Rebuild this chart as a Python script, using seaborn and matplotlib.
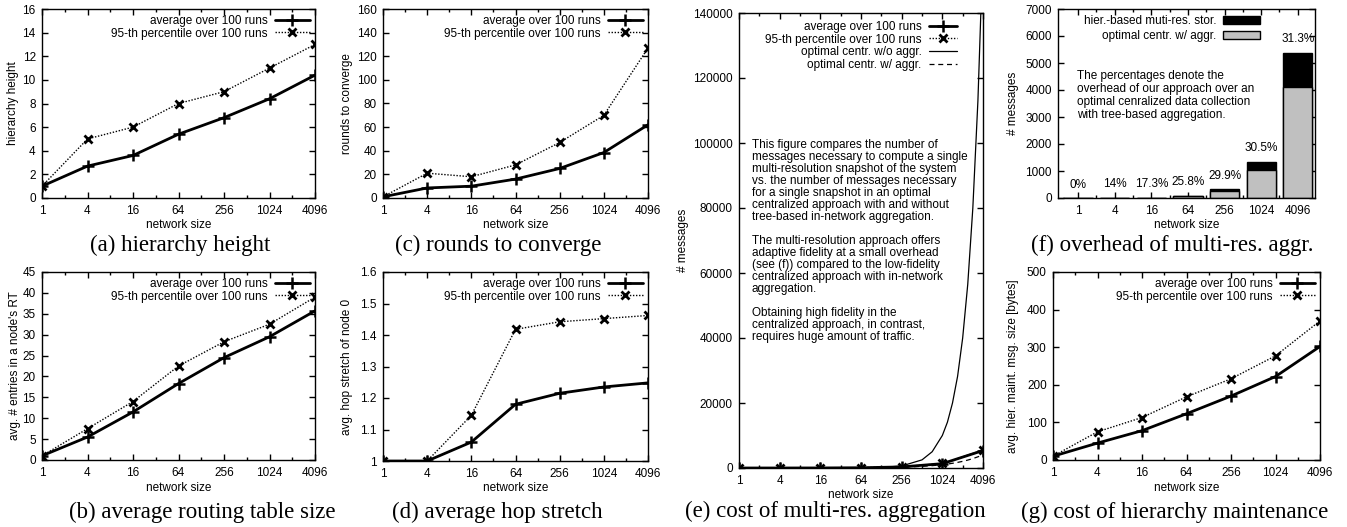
import numpy as np
import pandas as pd
import seaborn as sns
import matplotlib
matplotlib.use('Agg')
import matplotlib.pyplot as plt
from matplotlib.ticker import NullFormatter
from matplotlib.patches import Patch

NET_SIZE = [1, 4, 16, 64, 256, 1024, 4096]
SIZE_LABELS = ['1', '4', '16', '64', '256', '1024', '4096']
MINOR_SIZES = [2, 8, 32, 128, 512, 2048]

# (a) hierarchy height
HEIGHT_AVG = [1, 2.7, 3.6, 5.4, 6.8, 8.4, 10.4]
HEIGHT_P95 = [1, 5, 6, 8, 9, 11, 13]
# (b) routing table size
RT_AVG = [1, 5.5, 11.5, 18.3, 24.5, 29.5, 35.7]
RT_P95 = [1, 7.5, 14, 22.5, 28.3, 32.5, 39]
# (c) rounds to converge
ROUNDS_AVG = [1, 8.5, 10, 16, 25, 38.5, 62]
ROUNDS_P95 = [1, 21, 18, 28, 47, 70, 127]
# (d) hop stretch
STRETCH_AVG = [1, 1, 1.06, 1.18, 1.215, 1.235, 1.248]
STRETCH_P95 = [1, 1, 1.145, 1.418, 1.442, 1.452, 1.462]
# (e) messages per snapshot
MSG_AVG = [0, 3.4, 17.6, 79, 331, 1335, 5377]
MSG_P95 = [0, 4, 20, 85, 350, 1400, 5500]
CURVE_N = [1, 64, 128, 256, 512, 724, 1024, 1218, 1448, 1722, 2048, 2435, 2896, 3444, 4096]
CENTR_NO_AGGR = [0, 39, 156, 624, 2500, 5000, 10000, 14100, 20000, 28200, 40000,
                 56500, 80000, 113000, 160000]
CENTR_AGGR = [0, 63, 127, 255, 511, 723, 1023, 1217, 1447, 1721, 2047, 2434, 2895, 3443, 4095]
# (f) overhead bars
OPT_AGGR = [0, 3, 15, 63, 255, 1023, 4095]
HIER_TOTAL = [0, 3.4, 17.6, 79, 331, 1335, 5377]
OVERHEAD = ['0%', '14%', '17.3%', '25.8%', '29.9%', '30.5%', '31.3%']
# (g) maintenance message size
MAINT_AVG = [10, 45, 78, 123, 170, 222, 302]
MAINT_P95 = [10, 75, 113, 168, 216, 277, 370]

LBL_AVG = 'average over 100 runs'
LBL_P95 = '95-th percentile over 100 runs'

sns.set_theme(style='ticks')
FS = 8.5
plt.rcParams.update({
    'font.family': ['Liberation Sans', 'DejaVu Sans'],
    'font.size': FS,
    'axes.labelsize': FS,
    'xtick.labelsize': FS,
    'ytick.labelsize': FS,
    'legend.fontsize': FS,
    'axes.linewidth': 1.0,
    'axes.edgecolor': 'black',
    'axes.labelcolor': 'black',
    'text.color': 'black',
    'xtick.color': 'black',
    'ytick.color': 'black',
    'xtick.direction': 'in',
    'ytick.direction': 'in',
    'xtick.top': True,
    'ytick.right': True,
    'xtick.major.size': 4,
    'xtick.minor.size': 2.2,
    'ytick.major.size': 4,
    'xtick.major.width': 1,
    'xtick.minor.width': 1,
    'ytick.major.width': 1,
    'xtick.major.pad': 5,
    'ytick.major.pad': 4.5,
})

W, H = 1347, 527
fig = plt.figure(figsize=(W / 100, H / 100), dpi=100)

BOXES = {
    'a': (42, 9, 315, 198),
    'c': (383, 9, 648, 198),
    'b': (42, 272, 315, 460),
    'd': (383, 272, 648, 461),
    'e': (739, 13, 983, 468),
    'f': (1058, 9, 1315, 198),
    'g': (1053, 272, 1320, 460),
}


def make_axes(key):
    l, t, r, b = BOXES[key]
    return fig.add_axes([l / W, 1 - b / H, (r - l) / W, (b - t) / H])


def frac(key, px, py):
    l, t, r, b = BOXES[key]
    return (px - l) / (r - l), (b - py) / (b - t)


def set_labels(ax, key, ylabel, ylab_x, xlab_y):
    ax.set_xlabel('network size', va='center')
    ax.set_ylabel(ylabel, va='center')
    ax.xaxis.set_label_coords(0.5, frac(key, 0, xlab_y)[1])
    ax.yaxis.set_label_coords(frac(key, ylab_x, 0)[0], 0.5)


def log_xaxis(ax):
    ax.set_xscale('log', base=2)
    ax.set_xlim(1, 4096)
    ax.set_xticks(NET_SIZE, SIZE_LABELS)
    ax.set_xticks(MINOR_SIZES, minor=True)
    ax.xaxis.set_minor_formatter(NullFormatter())
    ax.tick_params(axis='y', which='minor', length=0)


def runs_legend(ax, key, right_gap=5, top_gap=6, handlelength=3.0):
    l, t, r, b = BOXES[key]
    ax.legend(loc='upper right', bbox_to_anchor=frac(key, r - right_gap, t + top_gap),
              frameon=False, markerfirst=False, numpoints=1, borderpad=0,
              borderaxespad=0, handlelength=handlelength, handletextpad=0.6,
              labelspacing=0.05)


def draw_runs(ax, avg, p95):
    sns.lineplot(x=NET_SIZE, y=avg, ax=ax, color='black', lw=2, marker='+',
                 ms=8.5, mew=1.8, mec='black', label=LBL_AVG)
    sns.lineplot(x=NET_SIZE, y=p95, ax=ax, color='black', lw=1, ls=(0, (1, 1.2)),
                 marker='x', ms=6, mew=2, mec='black', label=LBL_P95)


def runs_panel(key, avg, p95, ylim, yticks, ytl, ylabel, ylab_x, xlab_y):
    ax = make_axes(key)
    draw_runs(ax, avg, p95)
    log_xaxis(ax)
    ax.set_ylim(*ylim)
    ax.set_yticks(yticks, ytl)
    set_labels(ax, key, ylabel, ylab_x, xlab_y)
    runs_legend(ax, key)
    return ax


runs_panel('a', HEIGHT_AVG, HEIGHT_P95, (0, 16), range(0, 17, 2),
           [str(v) for v in range(0, 17, 2)], 'hierarchy height', 13, 225)
runs_panel('c', ROUNDS_AVG, ROUNDS_P95, (0, 160), range(0, 161, 20),
           [str(v) for v in range(0, 161, 20)], 'rounds to converge', 347, 225)
runs_panel('b', RT_AVG, RT_P95, (0, 45), range(0, 46, 5),
           [str(v) for v in range(0, 46, 5)], "avg. # entries in a node's RT", 15, 488)
d_ticks = [1.0, 1.1, 1.2, 1.3, 1.4, 1.5, 1.6]
runs_panel('d', STRETCH_AVG, STRETCH_P95, (1, 1.6), d_ticks,
           ['1', '1.1', '1.2', '1.3', '1.4', '1.5', '1.6'], 'avg. hop stretch of node 0', 347, 488)
runs_panel('g', MAINT_AVG, MAINT_P95, (0, 500), range(0, 501, 100),
           [str(v) for v in range(0, 501, 100)], 'avg. hier. maint. msg. size [bytes]', 1013, 488)

# (e) cost of multi-res aggregation
ax = make_axes('e')
draw_runs(ax, MSG_AVG, MSG_P95)
sns.lineplot(x=CURVE_N, y=CENTR_NO_AGGR, ax=ax, color='black', lw=0.9,
             label='optimal centr. w/o aggr.')
sns.lineplot(x=CURVE_N, y=CENTR_AGGR, ax=ax, color='black', lw=0.9, ls=(0, (4, 3)),
             label='optimal centr. w/ aggr.')
log_xaxis(ax)
ax.set_ylim(0, 140000)
ax.set_yticks(range(0, 140001, 20000), [str(v) for v in range(0, 140001, 20000)])
set_labels(ax, 'e', '# messages', 683, 495)
runs_legend(ax, 'e', right_gap=26, top_gap=8, handlelength=2.4)
e_text = ("This figure compares the number of\n"
          "messages necessary to compute a single\n"
          "multi-resolution snapshot of the system\n"
          "vs. the number of messages necessary\n"
          "for a single snapshot in an optimal\n"
          "centralized approach with and without\n"
          "tree-based in-network aggregation.\n"
          "\n"
          "The multi-resolution approach offers\n"
          "adaptive fidelity at a small overhead\n"
          "(see (f)) compared to the low-fidelity\n"
          "centralized approach with in-network\n"
          "aggregation.\n"
          "\n"
          "Obtaining high fidelity in the\n"
          "centralized approach, in contrast,\n"
          "requires huge amount of traffic.")
tx, ty = frac('e', 752, 139)
ax.text(tx, ty, e_text, transform=ax.transAxes, ha='left', va='top', linespacing=1.0)

# (f) overhead of multi-res aggregation
ax = make_axes('f')
bars = pd.DataFrame({'size': SIZE_LABELS, 'hier': HIER_TOTAL, 'opt': OPT_AGGR})
sns.barplot(data=bars, x='size', y='hier', ax=ax, color='black', saturation=1,
            edgecolor='black', linewidth=1, width=0.8)
sns.barplot(data=bars, x='size', y='opt', ax=ax, color='#c0c0c0', saturation=1,
            edgecolor='black', linewidth=1, width=0.8)
for i, (tot, pct) in enumerate(zip(HIER_TOTAL, OVERHEAD)):
    ax.text(i, tot + 500, pct, ha='center', va='center')
ax.set_xlim(-0.55, 6.47)
ax.set_xticks(np.arange(0.5, 6, 1), minor=True)
ax.tick_params(axis='y', which='minor', length=0)
ax.set_ylim(0, 7000)
ax.set_yticks(range(0, 7001, 1000), [str(v) for v in range(0, 7001, 1000)])
set_labels(ax, 'f', '# messages', 1013, 225)
ax.legend(handles=[Patch(facecolor='black', edgecolor='black', label='hier.-based muti-res. stor.'),
                   Patch(facecolor='#c0c0c0', edgecolor='black', label='optimal centr. w/ aggr.')],
          loc='upper right', bbox_to_anchor=frac('f', 1260, 15), frameon=False,
          markerfirst=False, borderpad=0, borderaxespad=0, handlelength=3.1,
          handleheight=0.65, handletextpad=0.6, labelspacing=0.25)
f_text = ("The percentages denote the\n"
          "overhead of our approach over an\n"
          "optimal cenralized data collection\n"
          "with tree-based aggregation.")
tx, ty = frac('f', 1077, 70)
ax.text(tx, ty, f_text, transform=ax.transAxes, ha='left', va='top', linespacing=1.1)

# sub-figure captions
CAPTIONS = [
    ('(a) hierarchy height', 180, 245),
    ('(c) rounds to converge', 498, 245),
    ('(f) overhead of multi-res. aggr.', 1172, 245),
    ('(b) average routing table size', 202, 512),
    ('(d) average hop stretch', 497, 512),
    ('(e) cost of multi-res. aggregation', 835, 511),
    ('(g) cost of hierarchy maintenance', 1175, 512),
]
for text, cx, cy in CAPTIONS:
    fig.text(cx / W, 1 - cy / H, text, ha='center', va='center',
             family=['Liberation Serif', 'DejaVu Serif'], fontsize=16.5)

fig.savefig('out.png', dpi=100)
